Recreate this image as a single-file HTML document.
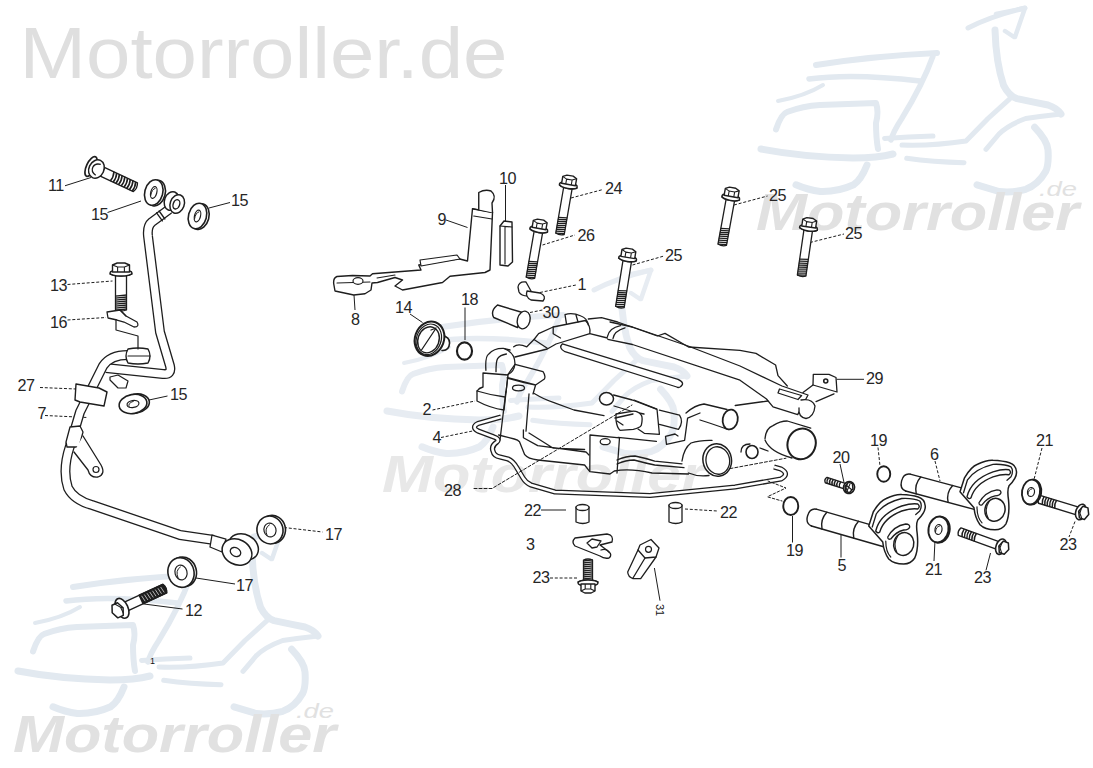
<!DOCTYPE html>
<html><head><meta charset="utf-8"><style>
html,body{margin:0;padding:0;background:#fff;overflow:hidden}
svg{display:block}
text{font-family:"Liberation Sans",sans-serif;fill:#161616}
.lb{fill:#262626}
</style></head><body>
<svg width="1093" height="768" viewBox="0 0 1093 768">
<rect width="1093" height="768" fill="#fff"/>
<text x="19.5" y="77.5" font-size="73" textLength="488" lengthAdjust="spacingAndGlyphs" style="fill:#dfdfdf">Motorroller.de</text><g transform="translate(743 0) scale(1.0)" fill="none" stroke="#e2e9f0" stroke-linecap="round" stroke-linejoin="round"><path d="M225 28 Q248 16 282 8" stroke-width="5"/><path d="M253 14 L282 8 L272 37 M262 31 L271 37" stroke-width="4.5"/><path d="M252 30 Q253 63 260.6 85.3 Q266 96 274 98.6 Q290 102 305 105 Q314 108 318 114" stroke-width="7"/><path d="M318 114 Q300 116 282.7 118.5 Q265 125 256 134 L243 149.4" stroke-width="5"/><path d="M291.6 127.3 Q304 140 305 150 Q306 165 302.6 171.6 Q295 185 282.7 189.3 Q270 193 256 191.5 L234 184.8" stroke-width="7"/><path d="M73 65 Q130 56 194 53" stroke-width="6"/><path d="M66 79 Q110 73 177 81" stroke-width="5.5"/><path d="M190 56 Q180 84 158.8 118.5 Q150 132 148 140" stroke-width="5.5"/><path d="M35 101 Q62 96 80 85" stroke-width="4"/><path d="M33 129.5 Q38 114 44 112 Q60 106 77 105 L133 103 Q136 112 133 123 Q133 138 135 149" stroke-width="6"/><path d="M18 149 Q60 157 110 158 Q135 158 150 154" stroke-width="7"/><path d="M141.6 138.4 Q165 137 190 136" stroke-width="5"/><path d="M159 145 Q190 146 223 141 L245 118.5 L267 98.6" stroke-width="5"/><path d="M163.7 158.3 Q190 162 221 162.7" stroke-width="5"/><path d="M124 165 Q118 180 110.6 184.8 Q95 192 77.4 191.5 Q65 190 53 184.8" stroke-width="7"/></g><text x="756" y="230" font-size="52" font-weight="bold" font-style="italic" textLength="323" lengthAdjust="spacingAndGlyphs" style="fill:#e1e1e1">Motorroller</text><text x="1039" y="196" font-size="20" font-style="italic" textLength="38" lengthAdjust="spacingAndGlyphs" style="fill:#e1e1e1">.de</text><g transform="translate(0 522) scale(1.0)" fill="none" stroke="#e2e9f0" stroke-linecap="round" stroke-linejoin="round"><path d="M225 28 Q248 16 282 8" stroke-width="5"/><path d="M253 14 L282 8 L272 37 M262 31 L271 37" stroke-width="4.5"/><path d="M252 30 Q253 63 260.6 85.3 Q266 96 274 98.6 Q290 102 305 105 Q314 108 318 114" stroke-width="7"/><path d="M318 114 Q300 116 282.7 118.5 Q265 125 256 134 L243 149.4" stroke-width="5"/><path d="M291.6 127.3 Q304 140 305 150 Q306 165 302.6 171.6 Q295 185 282.7 189.3 Q270 193 256 191.5 L234 184.8" stroke-width="7"/><path d="M73 65 Q130 56 194 53" stroke-width="6"/><path d="M66 79 Q110 73 177 81" stroke-width="5.5"/><path d="M190 56 Q180 84 158.8 118.5 Q150 132 148 140" stroke-width="5.5"/><path d="M35 101 Q62 96 80 85" stroke-width="4"/><path d="M33 129.5 Q38 114 44 112 Q60 106 77 105 L133 103 Q136 112 133 123 Q133 138 135 149" stroke-width="6"/><path d="M18 149 Q60 157 110 158 Q135 158 150 154" stroke-width="7"/><path d="M141.6 138.4 Q165 137 190 136" stroke-width="5"/><path d="M159 145 Q190 146 223 141 L245 118.5 L267 98.6" stroke-width="5"/><path d="M163.7 158.3 Q190 162 221 162.7" stroke-width="5"/><path d="M124 165 Q118 180 110.6 184.8 Q95 192 77.4 191.5 Q65 190 53 184.8" stroke-width="7"/></g><text x="13" y="752" font-size="52" font-weight="bold" font-style="italic" textLength="323" lengthAdjust="spacingAndGlyphs" style="fill:#e1e1e1">Motorroller</text><text x="296" y="718" font-size="20" font-style="italic" textLength="38" lengthAdjust="spacingAndGlyphs" style="fill:#e1e1e1">.de</text><g transform="translate(369 262) scale(1.0)" fill="none" stroke="#e7ecf2" stroke-linecap="round" stroke-linejoin="round"><path d="M225 28 Q248 16 282 8" stroke-width="5"/><path d="M253 14 L282 8 L272 37 M262 31 L271 37" stroke-width="4.5"/><path d="M252 30 Q253 63 260.6 85.3 Q266 96 274 98.6 Q290 102 305 105 Q314 108 318 114" stroke-width="7"/><path d="M318 114 Q300 116 282.7 118.5 Q265 125 256 134 L243 149.4" stroke-width="5"/><path d="M291.6 127.3 Q304 140 305 150 Q306 165 302.6 171.6 Q295 185 282.7 189.3 Q270 193 256 191.5 L234 184.8" stroke-width="7"/><path d="M73 65 Q130 56 194 53" stroke-width="6"/><path d="M66 79 Q110 73 177 81" stroke-width="5.5"/><path d="M190 56 Q180 84 158.8 118.5 Q150 132 148 140" stroke-width="5.5"/><path d="M35 101 Q62 96 80 85" stroke-width="4"/><path d="M33 129.5 Q38 114 44 112 Q60 106 77 105 L133 103 Q136 112 133 123 Q133 138 135 149" stroke-width="6"/><path d="M18 149 Q60 157 110 158 Q135 158 150 154" stroke-width="7"/><path d="M141.6 138.4 Q165 137 190 136" stroke-width="5"/><path d="M159 145 Q190 146 223 141 L245 118.5 L267 98.6" stroke-width="5"/><path d="M163.7 158.3 Q190 162 221 162.7" stroke-width="5"/><path d="M124 165 Q118 180 110.6 184.8 Q95 192 77.4 191.5 Q65 190 53 184.8" stroke-width="7"/></g><text x="382" y="492" font-size="52" font-weight="bold" font-style="italic" textLength="323" lengthAdjust="spacingAndGlyphs" style="fill:#e8e8e8">Motorroller</text>
<text x="48" y="191" font-size="16.2" letter-spacing="-0.6" class="lb">11</text><text x="91" y="220" font-size="16.2" letter-spacing="-0.6" class="lb">15</text><text x="231" y="206" font-size="16.2" letter-spacing="-0.6" class="lb">15</text><text x="50" y="291" font-size="16.2" letter-spacing="-0.6" class="lb">13</text><text x="50" y="327.5" font-size="16.2" letter-spacing="-0.6" class="lb">16</text><text x="17.5" y="391" font-size="16.2" letter-spacing="-0.6" class="lb">27</text><text x="37.5" y="419" font-size="16.2" letter-spacing="-0.6" class="lb">7</text><text x="170" y="400" font-size="16.2" letter-spacing="-0.6" class="lb">15</text><text x="325" y="540" font-size="16.2" letter-spacing="-0.6" class="lb">17</text><text x="236" y="591" font-size="16.2" letter-spacing="-0.6" class="lb">17</text><text x="185" y="616" font-size="16.2" letter-spacing="-0.6" class="lb">12</text><text x="499" y="184" font-size="16.2" letter-spacing="-0.6" class="lb">10</text><text x="437.5" y="225" font-size="16.2" letter-spacing="-0.6" class="lb">9</text><text x="351" y="325" font-size="16.2" letter-spacing="-0.6" class="lb">8</text><text x="395" y="312.5" font-size="16.2" letter-spacing="-0.6" class="lb">14</text><text x="461" y="305" font-size="16.2" letter-spacing="-0.6" class="lb">18</text><text x="605" y="194" font-size="16.2" letter-spacing="-0.6" class="lb">24</text><text x="577.5" y="241" font-size="16.2" letter-spacing="-0.6" class="lb">26</text><text x="577.5" y="290" font-size="16.2" letter-spacing="-0.6" class="lb">1</text><text x="542.5" y="317.5" font-size="16.2" letter-spacing="-0.6" class="lb">30</text><text x="665" y="261" font-size="16.2" letter-spacing="-0.6" class="lb">25</text><text x="769" y="201" font-size="16.2" letter-spacing="-0.6" class="lb">25</text><text x="845" y="239" font-size="16.2" letter-spacing="-0.6" class="lb">25</text><text x="866" y="384" font-size="16.2" letter-spacing="-0.6" class="lb">29</text><text x="422.5" y="415" font-size="16.2" letter-spacing="-0.6" class="lb">2</text><text x="432.5" y="442.5" font-size="16.2" letter-spacing="-0.6" class="lb">4</text><text x="444" y="496" font-size="16.2" letter-spacing="-0.6" class="lb">28</text><text x="524" y="516" font-size="16.2" letter-spacing="-0.6" class="lb">22</text><text x="720" y="517.5" font-size="16.2" letter-spacing="-0.6" class="lb">22</text><text x="526" y="550" font-size="16.2" letter-spacing="-0.6" class="lb">3</text><text x="532.5" y="582.5" font-size="16.2" letter-spacing="-0.6" class="lb">23</text><text x="870" y="446" font-size="16.2" letter-spacing="-0.6" class="lb">19</text><text x="832.5" y="462.5" font-size="16.2" letter-spacing="-0.6" class="lb">20</text><text x="786" y="556" font-size="16.2" letter-spacing="-0.6" class="lb">19</text><text x="837.5" y="571" font-size="16.2" letter-spacing="-0.6" class="lb">5</text><text x="930" y="460" font-size="16.2" letter-spacing="-0.6" class="lb">6</text><text x="1036" y="446" font-size="16.2" letter-spacing="-0.6" class="lb">21</text><text x="925" y="575" font-size="16.2" letter-spacing="-0.6" class="lb">21</text><text x="974" y="582.5" font-size="16.2" letter-spacing="-0.6" class="lb">23</text><text x="1059.6" y="550" font-size="16.2" letter-spacing="-0.6" class="lb">23</text><text x="0" y="0" font-size="11" transform="translate(656 604) rotate(90)">31</text><text x="150" y="664" font-size="9">1</text><line x1="65" y1="185.75" x2="91" y2="177.5" stroke="#1e1e1e" stroke-width="1.0" /><line x1="107.5" y1="212.5" x2="141" y2="201" stroke="#1e1e1e" stroke-width="1.0" /><line x1="209" y1="208" x2="230" y2="202.5" stroke="#1e1e1e" stroke-width="1.0" /><line x1="67.5" y1="284.5" x2="112.5" y2="281" stroke="#1e1e1e" stroke-width="1.0" stroke-dasharray="3 1.8"/><line x1="67.5" y1="320" x2="106" y2="317.5" stroke="#1e1e1e" stroke-width="1.0" stroke-dasharray="3 1.8"/><line x1="40" y1="387.5" x2="76" y2="389" stroke="#1e1e1e" stroke-width="1.0" stroke-dasharray="3 1.8"/><line x1="45" y1="415.5" x2="87.5" y2="417.5" stroke="#1e1e1e" stroke-width="1.0" stroke-dasharray="3 1.8"/><line x1="149" y1="400" x2="167.5" y2="396" stroke="#1e1e1e" stroke-width="1.0" /><line x1="196" y1="578" x2="235" y2="584" stroke="#1e1e1e" stroke-width="1.0" /><line x1="144" y1="604" x2="182.5" y2="609" stroke="#1e1e1e" stroke-width="1.0" /><line x1="284" y1="527.5" x2="322.5" y2="532" stroke="#1e1e1e" stroke-width="1.0" stroke-dasharray="3 1.8"/><line x1="505.5" y1="185" x2="505.5" y2="225" stroke="#1e1e1e" stroke-width="1.0" /><line x1="446" y1="220" x2="467.5" y2="227.5" stroke="#1e1e1e" stroke-width="1.0" /><line x1="354" y1="295" x2="355" y2="310" stroke="#1e1e1e" stroke-width="1.0" /><line x1="410" y1="314" x2="422.5" y2="322.5" stroke="#1e1e1e" stroke-width="1.0" /><line x1="465" y1="307.5" x2="465" y2="340" stroke="#1e1e1e" stroke-width="1.0" /><line x1="571" y1="198" x2="603" y2="189.5" stroke="#1e1e1e" stroke-width="1.0" stroke-dasharray="3 1.8"/><line x1="542.5" y1="245" x2="575" y2="235" stroke="#1e1e1e" stroke-width="1.0" stroke-dasharray="3 1.8"/><line x1="540" y1="292.5" x2="576" y2="285" stroke="#1e1e1e" stroke-width="1.0" stroke-dasharray="3 1.8"/><line x1="530" y1="312.5" x2="542.5" y2="310" stroke="#1e1e1e" stroke-width="1.0" stroke-dasharray="3 1.8"/><line x1="632.5" y1="265" x2="664" y2="256" stroke="#1e1e1e" stroke-width="1.0" stroke-dasharray="3 1.8"/><line x1="734" y1="205" x2="767.5" y2="196" stroke="#1e1e1e" stroke-width="1.0" stroke-dasharray="3 1.8"/><line x1="810" y1="242.5" x2="844" y2="234" stroke="#1e1e1e" stroke-width="1.0" stroke-dasharray="3 1.8"/><line x1="836.8" y1="379.3" x2="864" y2="379.3" stroke="#1e1e1e" stroke-width="1.0" /><line x1="432.5" y1="410" x2="475" y2="401" stroke="#1e1e1e" stroke-width="1.0" stroke-dasharray="3 1.8"/><line x1="441" y1="437.5" x2="472.5" y2="431" stroke="#1e1e1e" stroke-width="1.0" stroke-dasharray="3 1.8"/><line x1="541" y1="510" x2="566" y2="510" stroke="#1e1e1e" stroke-width="1.0" /><line x1="685" y1="509" x2="717.5" y2="511" stroke="#1e1e1e" stroke-width="1.0" stroke-dasharray="3 1.8"/><line x1="550" y1="578" x2="577.5" y2="578" stroke="#1e1e1e" stroke-width="1.0" stroke-dasharray="3 1.8"/><line x1="654.4" y1="568" x2="660" y2="600.7" stroke="#1e1e1e" stroke-width="1.0" /><line x1="878" y1="447.5" x2="880" y2="466" stroke="#1e1e1e" stroke-width="1.0" stroke-dasharray="3 1.8"/><line x1="840" y1="464" x2="844" y2="482.5" stroke="#1e1e1e" stroke-width="1.0" /><line x1="792.5" y1="516" x2="792.5" y2="542.5" stroke="#1e1e1e" stroke-width="1.0" /><line x1="841" y1="535" x2="841" y2="557.5" stroke="#1e1e1e" stroke-width="1.0" /><line x1="935" y1="461" x2="940" y2="481" stroke="#1e1e1e" stroke-width="1.0" stroke-dasharray="3 1.8"/><line x1="986" y1="570.3" x2="990.5" y2="553" stroke="#1e1e1e" stroke-width="1.0" /><line x1="935" y1="540" x2="934" y2="561" stroke="#1e1e1e" stroke-width="1.0" /><line x1="1042" y1="448" x2="1034" y2="479.5" stroke="#1e1e1e" stroke-width="1.0" stroke-dasharray="3 1.8"/><line x1="1075" y1="521.5" x2="1069" y2="537" stroke="#1e1e1e" stroke-width="1.0" stroke-dasharray="3 1.8"/><g transform="translate(91 166.5) rotate(25)" fill="#fff" stroke="#1e1e1e" stroke-linejoin="round"><path d="M6 -4.8 L49 -4.8 Q51.5 0 49 4.8 L6 4.8 Z" stroke-width="1.4"/><path d="M23 -5 Q25 0 23.6 5" fill="none" stroke-width="1.6"/><path d="M26 -5 Q28 0 26.6 5" fill="none" stroke-width="1.6"/><path d="M29 -5 Q31 0 29.6 5" fill="none" stroke-width="1.6"/><path d="M32 -5 Q34 0 32.6 5" fill="none" stroke-width="1.6"/><path d="M35 -5 Q37 0 35.6 5" fill="none" stroke-width="1.6"/><path d="M38 -5 Q40 0 38.6 5" fill="none" stroke-width="1.6"/><path d="M41 -5 Q43 0 41.6 5" fill="none" stroke-width="1.6"/><path d="M44 -5 Q46 0 44.6 5" fill="none" stroke-width="1.6"/><path d="M47 -5 Q49 0 47.6 5" fill="none" stroke-width="1.6"/><ellipse cx="0" cy="0" rx="4.5" ry="10.7" stroke-width="1.7"/><ellipse cx="6" cy="0" rx="7.5" ry="9.5" stroke-width="1.5"/><path d="M8 -6 Q2 -5 2 0 Q2 5 8 6" fill="none" stroke-width="1.3"/></g><g transform="translate(568.5 184.5) rotate(99.8)" fill="#fff" stroke="#1e1e1e" stroke-width="1.3" stroke-linejoin="round"><path d="M2 -4.3 L50 -4.3 Q52 0 50 4.3 L2 4.3 Z"/><path d="M33.0 -4.6 L34.2 4.6" stroke-width="1.3"/><path d="M35.0 -4.6 L36.2 4.6" stroke-width="1.3"/><path d="M37.0 -4.6 L38.2 4.6" stroke-width="1.3"/><path d="M39.0 -4.6 L40.2 4.6" stroke-width="1.3"/><path d="M41.0 -4.6 L42.2 4.6" stroke-width="1.3"/><path d="M43.0 -4.6 L44.2 4.6" stroke-width="1.3"/><path d="M45.0 -4.6 L46.2 4.6" stroke-width="1.3"/><path d="M47.0 -4.6 L48.2 4.6" stroke-width="1.3"/><path d="M49.0 -4.6 L50.2 4.6" stroke-width="1.3"/><path d="M2 -9 Q6 0 2 9 Q-2 0 2 -9 Z" stroke-width="1.4"/><ellipse cx="1" cy="0" rx="3" ry="9" stroke-width="1.4"/><path d="M0 -7 L-7 -7 L-9 -3.15 L-9 3.15 L-7 7 L0 7 Z" stroke-width="1.4"/><path d="M-7 -7 L-5 -2.8000000000000003 L-5 2.8000000000000003 L-7 7 M-5 -2.8000000000000003 L0 -2.8000000000000003 M-5 2.8000000000000003 L0 2.8000000000000003" fill="none" stroke-width="1.1"/></g><g transform="translate(539 228.5) rotate(99.9)" fill="#fff" stroke="#1e1e1e" stroke-width="1.3" stroke-linejoin="round"><path d="M2 -4.3 L50 -4.3 Q52 0 50 4.3 L2 4.3 Z"/><path d="M33.0 -4.6 L34.2 4.6" stroke-width="1.3"/><path d="M35.0 -4.6 L36.2 4.6" stroke-width="1.3"/><path d="M37.0 -4.6 L38.2 4.6" stroke-width="1.3"/><path d="M39.0 -4.6 L40.2 4.6" stroke-width="1.3"/><path d="M41.0 -4.6 L42.2 4.6" stroke-width="1.3"/><path d="M43.0 -4.6 L44.2 4.6" stroke-width="1.3"/><path d="M45.0 -4.6 L46.2 4.6" stroke-width="1.3"/><path d="M47.0 -4.6 L48.2 4.6" stroke-width="1.3"/><path d="M49.0 -4.6 L50.2 4.6" stroke-width="1.3"/><path d="M2 -9 Q6 0 2 9 Q-2 0 2 -9 Z" stroke-width="1.4"/><ellipse cx="1" cy="0" rx="3" ry="9" stroke-width="1.4"/><path d="M0 -7 L-7 -7 L-9 -3.15 L-9 3.15 L-7 7 L0 7 Z" stroke-width="1.4"/><path d="M-7 -7 L-5 -2.8000000000000003 L-5 2.8000000000000003 L-7 7 M-5 -2.8000000000000003 L0 -2.8000000000000003 M-5 2.8000000000000003 L0 2.8000000000000003" fill="none" stroke-width="1.1"/></g><g transform="translate(627.8 257.5) rotate(99.1)" fill="#fff" stroke="#1e1e1e" stroke-width="1.3" stroke-linejoin="round"><path d="M2 -4.3 L50 -4.3 Q52 0 50 4.3 L2 4.3 Z"/><path d="M33.0 -4.6 L34.2 4.6" stroke-width="1.3"/><path d="M35.0 -4.6 L36.2 4.6" stroke-width="1.3"/><path d="M37.0 -4.6 L38.2 4.6" stroke-width="1.3"/><path d="M39.0 -4.6 L40.2 4.6" stroke-width="1.3"/><path d="M41.0 -4.6 L42.2 4.6" stroke-width="1.3"/><path d="M43.0 -4.6 L44.2 4.6" stroke-width="1.3"/><path d="M45.0 -4.6 L46.2 4.6" stroke-width="1.3"/><path d="M47.0 -4.6 L48.2 4.6" stroke-width="1.3"/><path d="M49.0 -4.6 L50.2 4.6" stroke-width="1.3"/><path d="M2 -9 Q6 0 2 9 Q-2 0 2 -9 Z" stroke-width="1.4"/><ellipse cx="1" cy="0" rx="3" ry="9" stroke-width="1.4"/><path d="M0 -7 L-7 -7 L-9 -3.15 L-9 3.15 L-7 7 L0 7 Z" stroke-width="1.4"/><path d="M-7 -7 L-5 -2.8000000000000003 L-5 2.8000000000000003 L-7 7 M-5 -2.8000000000000003 L0 -2.8000000000000003 M-5 2.8000000000000003 L0 2.8000000000000003" fill="none" stroke-width="1.1"/></g><g transform="translate(731 196.5) rotate(100.3)" fill="#fff" stroke="#1e1e1e" stroke-width="1.3" stroke-linejoin="round"><path d="M2 -4.3 L49 -4.3 Q51 0 49 4.3 L2 4.3 Z"/><path d="M32.0 -4.6 L33.2 4.6" stroke-width="1.3"/><path d="M34.0 -4.6 L35.2 4.6" stroke-width="1.3"/><path d="M36.0 -4.6 L37.2 4.6" stroke-width="1.3"/><path d="M38.0 -4.6 L39.2 4.6" stroke-width="1.3"/><path d="M40.0 -4.6 L41.2 4.6" stroke-width="1.3"/><path d="M42.0 -4.6 L43.2 4.6" stroke-width="1.3"/><path d="M44.0 -4.6 L45.2 4.6" stroke-width="1.3"/><path d="M46.0 -4.6 L47.2 4.6" stroke-width="1.3"/><path d="M48.0 -4.6 L49.2 4.6" stroke-width="1.3"/><path d="M2 -9 Q6 0 2 9 Q-2 0 2 -9 Z" stroke-width="1.4"/><ellipse cx="1" cy="0" rx="3" ry="9" stroke-width="1.4"/><path d="M0 -7 L-7 -7 L-9 -3.15 L-9 3.15 L-7 7 L0 7 Z" stroke-width="1.4"/><path d="M-7 -7 L-5 -2.8000000000000003 L-5 2.8000000000000003 L-7 7 M-5 -2.8000000000000003 L0 -2.8000000000000003 M-5 2.8000000000000003 L0 2.8000000000000003" fill="none" stroke-width="1.1"/></g><g transform="translate(808.7 227) rotate(98.3)" fill="#fff" stroke="#1e1e1e" stroke-width="1.3" stroke-linejoin="round"><path d="M2 -4.3 L49 -4.3 Q51 0 49 4.3 L2 4.3 Z"/><path d="M32.0 -4.6 L33.2 4.6" stroke-width="1.3"/><path d="M34.0 -4.6 L35.2 4.6" stroke-width="1.3"/><path d="M36.0 -4.6 L37.2 4.6" stroke-width="1.3"/><path d="M38.0 -4.6 L39.2 4.6" stroke-width="1.3"/><path d="M40.0 -4.6 L41.2 4.6" stroke-width="1.3"/><path d="M42.0 -4.6 L43.2 4.6" stroke-width="1.3"/><path d="M44.0 -4.6 L45.2 4.6" stroke-width="1.3"/><path d="M46.0 -4.6 L47.2 4.6" stroke-width="1.3"/><path d="M48.0 -4.6 L49.2 4.6" stroke-width="1.3"/><path d="M2 -9 Q6 0 2 9 Q-2 0 2 -9 Z" stroke-width="1.4"/><ellipse cx="1" cy="0" rx="3" ry="9" stroke-width="1.4"/><path d="M0 -7 L-7 -7 L-9 -3.15 L-9 3.15 L-7 7 L0 7 Z" stroke-width="1.4"/><path d="M-7 -7 L-5 -2.8000000000000003 L-5 2.8000000000000003 L-7 7 M-5 -2.8000000000000003 L0 -2.8000000000000003 M-5 2.8000000000000003 L0 2.8000000000000003" fill="none" stroke-width="1.1"/></g><g transform="translate(121 272) rotate(90)" fill="#fff" stroke="#1e1e1e" stroke-width="1.3" stroke-linejoin="round"><path d="M2 -5.5 L38 -5.5 Q40 0 38 5.5 L2 5.5 Z"/><path d="M23.0 -5.8 L24.2 5.8" stroke-width="1.3"/><path d="M25.0 -5.8 L26.2 5.8" stroke-width="1.3"/><path d="M27.0 -5.8 L28.2 5.8" stroke-width="1.3"/><path d="M29.0 -5.8 L30.2 5.8" stroke-width="1.3"/><path d="M31.0 -5.8 L32.2 5.8" stroke-width="1.3"/><path d="M33.0 -5.8 L34.2 5.8" stroke-width="1.3"/><path d="M35.0 -5.8 L36.2 5.8" stroke-width="1.3"/><path d="M37.0 -5.8 L38.2 5.8" stroke-width="1.3"/><path d="M2 -11 Q6 0 2 11 Q-2 0 2 -11 Z" stroke-width="1.4"/><ellipse cx="1" cy="0" rx="3" ry="11" stroke-width="1.4"/><path d="M0 -8.5 L-7 -8.5 L-9 -3.825 L-9 3.825 L-7 8.5 L0 8.5 Z" stroke-width="1.4"/><path d="M-7 -8.5 L-5 -3.4000000000000004 L-5 3.4000000000000004 L-7 8.5 M-5 -3.4000000000000004 L0 -3.4000000000000004 M-5 3.4000000000000004 L0 3.4000000000000004" fill="none" stroke-width="1.1"/></g><g transform="translate(122 608.3) rotate(-24.7)" fill="#fff" stroke="#1e1e1e" stroke-width="1.4" stroke-linejoin="round"><path d="M0 -4.7 L47 -4.7 Q49.5 0 47 4.7 L0 4.7 Z"/><path d="M21 -4.7 L47 -4.7 Q49.5 0 47 4.7 L21 4.7 Z" fill="#1e1e1e"/><path d="M23 -3.2 L24 3.2" stroke="#fff" stroke-width="0.6"/><path d="M26 -3.2 L27 3.2" stroke="#fff" stroke-width="0.6"/><path d="M29 -3.2 L30 3.2" stroke="#fff" stroke-width="0.6"/><path d="M32 -3.2 L33 3.2" stroke="#fff" stroke-width="0.6"/><path d="M35 -3.2 L36 3.2" stroke="#fff" stroke-width="0.6"/><path d="M38 -3.2 L39 3.2" stroke="#fff" stroke-width="0.6"/><path d="M41 -3.2 L42 3.2" stroke="#fff" stroke-width="0.6"/><path d="M44 -3.2 L45 3.2" stroke="#fff" stroke-width="0.6"/><ellipse cx="0" cy="0" rx="6" ry="10.5" stroke-width="1.6"/><polygon points="1.20,0.00 -1.80,6.93 -7.80,6.93 -10.80,0.00 -7.80,-6.93 -1.80,-6.93" stroke-width="1.5"/><path d="M-4.8 -6.96 L-0.7999999999999998 -1.6 L-0.7999999999999998 4.8 M-0.7999999999999998 -1.6 L1.2000000000000002 0" fill="none" stroke-width="1.1"/></g><g transform="translate(1080.8 512) rotate(197)" fill="#fff" stroke="#1e1e1e" stroke-width="1.4" stroke-linejoin="round"><path d="M0 -4 L43 -4 Q45.5 0 43 4 L0 4 Z"/><path d="M26.0 -4.2 Q27.8 0 26.6 4.2" fill="none" stroke-width="1.5"/><path d="M28.6 -4.2 Q30.400000000000002 0 29.200000000000003 4.2" fill="none" stroke-width="1.5"/><path d="M31.2 -4.2 Q33.0 0 31.8 4.2" fill="none" stroke-width="1.5"/><path d="M33.8 -4.2 Q35.599999999999994 0 34.4 4.2" fill="none" stroke-width="1.5"/><path d="M36.4 -4.2 Q38.199999999999996 0 37.0 4.2" fill="none" stroke-width="1.5"/><path d="M39.0 -4.2 Q40.8 0 39.6 4.2" fill="none" stroke-width="1.5"/><ellipse cx="0" cy="0" rx="5" ry="8" stroke-width="1.6"/><polygon points="2.25,0.00 -0.37,6.06 -5.62,6.06 -8.25,0.00 -5.63,-6.06 -0.37,-6.06" stroke-width="1.5"/><path d="M-3 -6.09 L0.5 -1.4000000000000001 L0.5 4.2 M0.5 -1.4000000000000001 L2.25 0" fill="none" stroke-width="1.1"/></g><g transform="translate(1001 546.7) rotate(200)" fill="#fff" stroke="#1e1e1e" stroke-width="1.4" stroke-linejoin="round"><path d="M0 -4 L44 -4 Q46.5 0 44 4 L0 4 Z"/><path d="M27.0 -4.2 Q28.8 0 27.6 4.2" fill="none" stroke-width="1.5"/><path d="M29.6 -4.2 Q31.400000000000002 0 30.200000000000003 4.2" fill="none" stroke-width="1.5"/><path d="M32.2 -4.2 Q34.0 0 32.800000000000004 4.2" fill="none" stroke-width="1.5"/><path d="M34.8 -4.2 Q36.599999999999994 0 35.4 4.2" fill="none" stroke-width="1.5"/><path d="M37.4 -4.2 Q39.199999999999996 0 38.0 4.2" fill="none" stroke-width="1.5"/><path d="M40.0 -4.2 Q41.8 0 40.6 4.2" fill="none" stroke-width="1.5"/><ellipse cx="0" cy="0" rx="5" ry="8" stroke-width="1.6"/><polygon points="2.25,0.00 -0.37,6.06 -5.62,6.06 -8.25,0.00 -5.63,-6.06 -0.37,-6.06" stroke-width="1.5"/><path d="M-3 -6.09 L0.5 -1.4000000000000001 L0.5 4.2 M0.5 -1.4000000000000001 L2.25 0" fill="none" stroke-width="1.1"/></g><g transform="translate(849 487.5) rotate(198)" fill="#fff" stroke="#1e1e1e" stroke-width="1.4" stroke-linejoin="round"><path d="M0 -2.8 L24 -2.8 Q26.5 0 24 2.8 L0 2.8 Z"/><path d="M9.0 -3.0 Q10.8 0 9.6 3.0" fill="none" stroke-width="1.5"/><path d="M11.6 -3.0 Q13.4 0 12.2 3.0" fill="none" stroke-width="1.5"/><path d="M14.2 -3.0 Q16.0 0 14.799999999999999 3.0" fill="none" stroke-width="1.5"/><path d="M16.8 -3.0 Q18.6 0 17.400000000000002 3.0" fill="none" stroke-width="1.5"/><path d="M19.4 -3.0 Q21.2 0 20.0 3.0" fill="none" stroke-width="1.5"/><path d="M22.0 -3.0 Q23.8 0 22.6 3.0" fill="none" stroke-width="1.5"/><ellipse cx="0" cy="0" rx="5.5" ry="6" stroke-width="1.6"/><polygon points="4.12,0.00 2.06,4.76 -2.06,4.76 -4.12,0.00 -2.06,-4.76 2.06,-4.76" stroke-width="1.5"/><path d="M0 -4.785 L2.75 -1.1 L2.75 3.3 M2.75 -1.1 L4.125 0" fill="none" stroke-width="1.1"/></g><path d="M846 485 L852 490 M850 484 L847 491" stroke="#1e1e1e" stroke-width="1.1"/><g transform="translate(588 584) rotate(-90)" fill="#fff" stroke="#1e1e1e" stroke-width="1.3" stroke-linejoin="round"><path d="M2 -4.5 L24 -4.5 Q26 0 24 4.5 L2 4.5 Z"/><path d="M5.0 -4.8 L6.2 4.8" stroke-width="1.3"/><path d="M7.0 -4.8 L8.2 4.8" stroke-width="1.3"/><path d="M9.0 -4.8 L10.2 4.8" stroke-width="1.3"/><path d="M11.0 -4.8 L12.2 4.8" stroke-width="1.3"/><path d="M13.0 -4.8 L14.2 4.8" stroke-width="1.3"/><path d="M15.0 -4.8 L16.2 4.8" stroke-width="1.3"/><path d="M17.0 -4.8 L18.2 4.8" stroke-width="1.3"/><path d="M19.0 -4.8 L20.2 4.8" stroke-width="1.3"/><path d="M21.0 -4.8 L22.2 4.8" stroke-width="1.3"/><path d="M23.0 -4.8 L24.2 4.8" stroke-width="1.3"/><path d="M2 -10 Q6 0 2 10 Q-2 0 2 -10 Z" stroke-width="1.4"/><ellipse cx="1" cy="0" rx="3" ry="10" stroke-width="1.4"/><path d="M0 -7 L-7 -7 L-9 -3.15 L-9 3.15 L-7 7 L0 7 Z" stroke-width="1.4"/><path d="M-7 -7 L-5 -2.8000000000000003 L-5 2.8000000000000003 L-7 7 M-5 -2.8000000000000003 L0 -2.8000000000000003 M-5 2.8000000000000003 L0 2.8000000000000003" fill="none" stroke-width="1.1"/></g><g transform="translate(153.75 192.5) rotate(15)"><ellipse cx="2.5" cy="0" rx="9" ry="13" fill="#fff" stroke="#1e1e1e" stroke-width="1.6"/><ellipse cx="0" cy="0" rx="9" ry="13" fill="#fff" stroke="#1e1e1e" stroke-width="1.6"/><ellipse cx="0" cy="0" rx="3" ry="6" fill="#fff" stroke="#1e1e1e" stroke-width="1.2"/><path d="M-2.0999999999999996 4.199999999999999 Q-2.7 -3.0 0.6000000000000001 -4.5" fill="none" stroke="#1e1e1e" stroke-width="0.9"/></g><g transform="translate(197.5 216) rotate(15)"><ellipse cx="2.5" cy="0" rx="9" ry="13" fill="#fff" stroke="#1e1e1e" stroke-width="1.6"/><ellipse cx="0" cy="0" rx="9" ry="13" fill="#fff" stroke="#1e1e1e" stroke-width="1.6"/><ellipse cx="0" cy="0" rx="3" ry="6" fill="#fff" stroke="#1e1e1e" stroke-width="1.2"/><path d="M-2.0999999999999996 4.199999999999999 Q-2.7 -3.0 0.6000000000000001 -4.5" fill="none" stroke="#1e1e1e" stroke-width="0.9"/></g><g transform="translate(133 404) rotate(-10)"><ellipse cx="2.5" cy="0" rx="14" ry="9.5" fill="#fff" stroke="#1e1e1e" stroke-width="1.6"/><ellipse cx="0" cy="0" rx="14" ry="9.5" fill="#fff" stroke="#1e1e1e" stroke-width="1.6"/><ellipse cx="0" cy="0" rx="6" ry="3.5" fill="#fff" stroke="#1e1e1e" stroke-width="1.2"/><path d="M-4.199999999999999 2.4499999999999997 Q-5.4 -1.75 1.2000000000000002 -2.625" fill="none" stroke="#1e1e1e" stroke-width="0.9"/></g><g transform="translate(270 530) rotate(-15)"><ellipse cx="2.5" cy="0" rx="13" ry="14" fill="#fff" stroke="#1e1e1e" stroke-width="1.6"/><ellipse cx="0" cy="0" rx="13" ry="14" fill="#fff" stroke="#1e1e1e" stroke-width="1.6"/><ellipse cx="0" cy="0" rx="6" ry="7" fill="#fff" stroke="#1e1e1e" stroke-width="1.2"/><path d="M-4.199999999999999 4.8999999999999995 Q-5.4 -3.5 1.2000000000000002 -5.25" fill="none" stroke="#1e1e1e" stroke-width="0.9"/></g><g transform="translate(181 572.5) rotate(-15)"><ellipse cx="2.5" cy="0" rx="13" ry="15" fill="#fff" stroke="#1e1e1e" stroke-width="1.6"/><ellipse cx="0" cy="0" rx="13" ry="15" fill="#fff" stroke="#1e1e1e" stroke-width="1.6"/><ellipse cx="0" cy="0" rx="6" ry="7.5" fill="#fff" stroke="#1e1e1e" stroke-width="1.2"/><path d="M-4.199999999999999 5.25 Q-5.4 -3.75 1.2000000000000002 -5.625" fill="none" stroke="#1e1e1e" stroke-width="0.9"/></g><g transform="translate(1031 492) rotate(10)"><ellipse cx="1.2" cy="0" rx="9" ry="12.5" fill="#fff" stroke="#1e1e1e" stroke-width="1.9"/><ellipse cx="0" cy="0" rx="9" ry="12.5" fill="#fff" stroke="#1e1e1e" stroke-width="1.9"/><ellipse cx="0" cy="0" rx="3.5" ry="4.5" fill="#fff" stroke="#1e1e1e" stroke-width="1.2"/><path d="M-2.4499999999999997 3.15 Q-3.15 -2.25 0.7000000000000001 -3.375" fill="none" stroke="#1e1e1e" stroke-width="0.9"/></g><g transform="translate(938.5 529.5) rotate(10)"><ellipse cx="1.2" cy="0" rx="10" ry="13" fill="#fff" stroke="#1e1e1e" stroke-width="1.9"/><ellipse cx="0" cy="0" rx="10" ry="13" fill="#fff" stroke="#1e1e1e" stroke-width="1.9"/><ellipse cx="0" cy="0" rx="3.5" ry="5" fill="#fff" stroke="#1e1e1e" stroke-width="1.2"/><path d="M-2.4499999999999997 3.5 Q-3.15 -2.5 0.7000000000000001 -3.75" fill="none" stroke="#1e1e1e" stroke-width="0.9"/></g><path d="M171 208 L152 222 Q147 226 148 236 L160 332 L170 366 Q172 375 163 374 L106 368" fill="none" stroke="#1e1e1e" stroke-width="10" stroke-linecap="butt" stroke-linejoin="round"/><path d="M171 208 L152 222 Q147 226 148 236 L160 332 L170 366 Q172 375 163 374 L106 368" fill="none" stroke="#fff" stroke-width="7.4" stroke-linecap="butt" stroke-linejoin="round"/><path d="M128 355 Q110 355 103 366 L80 412 L70 446 Q62 470 68 488 Q74 500 92 505 L180 535 L214 540" fill="none" stroke="#1e1e1e" stroke-width="10" stroke-linecap="butt" stroke-linejoin="round"/><path d="M128 355 Q110 355 103 366 L80 412 L70 446 Q62 470 68 488 Q74 500 92 505 L180 535 L214 540" fill="none" stroke="#fff" stroke-width="7.4" stroke-linecap="butt" stroke-linejoin="round"/><g stroke="#1e1e1e" fill="#fff"><ellipse cx="171.5" cy="201" rx="7" ry="9.5" transform="rotate(20 171.5 201)" stroke-width="1.5"/><path d="M167 196 L174 193 L180 212 L172 214 Z" stroke="none"/><ellipse cx="177.2" cy="204" rx="7" ry="9.5" transform="rotate(20 177.2 204)" stroke-width="1.5"/><ellipse cx="176.4" cy="204.3" rx="3.2" ry="4.8" transform="rotate(20 176.4 204.3)" stroke-width="1.4"/></g><path d="M159.1 211 L164.9 219 M156.6 212.8 L162.4 220.9" fill="none" stroke="#1e1e1e" stroke-width="1.3" stroke-linejoin="round" stroke-linecap="round" /><path d="M212 535 L226 539 L222 552 L210 547 Z" fill="#fff" stroke="#1e1e1e" stroke-width="1.3" stroke-linejoin="round" stroke-linecap="round" /><g stroke="#1e1e1e" stroke-width="1.5" fill="#fff"><ellipse cx="243.5" cy="547" rx="15.5" ry="12.5" transform="rotate(28 243.5 547)"/><path d="M230 541 L237 536 L250 558 L243 563 Z" stroke="none"/><ellipse cx="237" cy="552" rx="15.5" ry="12.5" transform="rotate(28 237 552)"/><ellipse cx="235.5" cy="552" rx="5.5" ry="4.3" transform="rotate(28 235.5 552)" stroke-width="1.3"/></g><path d="M76 384 L99 388 L107 392 L104 406 L80 402 L75 400 Z" fill="#fff" stroke="#1e1e1e" stroke-width="1.4" stroke-linejoin="round" stroke-linecap="round" /><path d="M70 427 L80 426 L83 432 L79 447 L67 447 L66 442 Z" fill="#fff" stroke="#1e1e1e" stroke-width="1.3" stroke-linejoin="round" stroke-linecap="round" /><path d="M83 436 L101 465 Q106 474 98 477 Q90 478 88 470 L74 452" fill="#fff" stroke="#1e1e1e" stroke-width="1.3" stroke-linejoin="round" stroke-linecap="round" /><circle cx="96" cy="469.5" r="3" fill="#fff" stroke="#1e1e1e" stroke-width="1.2"/><path d="M128 349 Q138 347 148 349 Q152 356 148 363 Q138 365 128 363 Q124 356 128 349 Z" fill="#fff" stroke="#1e1e1e" stroke-width="1.4" stroke-linejoin="round" stroke-linecap="round" /><path d="M128 356 L150 356" fill="none" stroke="#1e1e1e" stroke-width="1.1" stroke-linejoin="round" stroke-linecap="round" /><path d="M110 377 L118 375 L128 381 L126 388 L118 388 L110 380 Z" fill="#fff" stroke="#1e1e1e" stroke-width="1.2" stroke-linejoin="round" stroke-linecap="round" /><path d="M107 312 L120 310 L126 316 L137 322 Q140 327 134 327 L124 322 L117 320 L108 318 Z" fill="#fff" stroke="#1e1e1e" stroke-width="1.3" stroke-linejoin="round" stroke-linecap="round" /><path d="M116 320 L116 330 L138 336 L138 349" fill="none" stroke="#1e1e1e" stroke-width="1.2" stroke-linejoin="round" stroke-linecap="round" /><path d="M120 310 L126 316" fill="none" stroke="#1e1e1e" stroke-width="1.1" stroke-linejoin="round" stroke-linecap="round" /><path d="M472.5 208.75 L467.5 261 L458.75 258.75 L418.75 265 L421 270 L372.5 273.75 L370 276 L352.5 275.5 L337 276.5 Q333 278 333.75 284 L335 291 L353.75 295 L365 293.75 L371 290 L372 283 L377.5 282.5 L395 277.5 L402.5 280 L395 286 L402.5 290 L442.5 282.5 L450 276.25 L485 272.5 L490 270 L492.5 212.5 Z" fill="#fff" stroke="#1e1e1e" stroke-width="1.4" stroke-linejoin="round" stroke-linecap="round" /><path d="M472.5 208.75 L492.5 212.5 M473.75 216 L492 219" fill="none" stroke="#1e1e1e" stroke-width="1.2" stroke-linejoin="round" stroke-linecap="round" /><path d="M478.75 209.5 L478.75 192.5 Q485 189 491 191 Q497 196 492 203 L492.5 212.5" fill="#fff" stroke="#1e1e1e" stroke-width="1.4" stroke-linejoin="round" stroke-linecap="round" /><path d="M420 260 L457 255 L460 259 L421 266 Z" fill="#fff" stroke="#1e1e1e" stroke-width="1.2" stroke-linejoin="round" stroke-linecap="round" /><path d="M337 283 L370 282 M377 278 L395 275" fill="none" stroke="#1e1e1e" stroke-width="1.1" stroke-linejoin="round" stroke-linecap="round" /><ellipse cx="358" cy="281" rx="5" ry="3.3" fill="#fff" stroke="#1e1e1e" stroke-width="1.2"/><path d="M500 226 L504 221 L512 222 L512.5 262 L508 266 L500 265 Z" fill="#fff" stroke="#1e1e1e" stroke-width="1.4" stroke-linejoin="round" stroke-linecap="round" /><path d="M500 226 L512 227 M505 227 L505 264" fill="none" stroke="#1e1e1e" stroke-width="1.1" stroke-linejoin="round" stroke-linecap="round" /><path d="M518 287 Q519 281 526 282 L531 291 L528 296 Q521 296 519 292 Z" fill="#fff" stroke="#1e1e1e" stroke-width="1.3" stroke-linejoin="round" stroke-linecap="round" /><path d="M527 291 L540 293 Q547 296 543 301 L531 300 Q525 297 527 291 Z" fill="#fff" stroke="#1e1e1e" stroke-width="1.3" stroke-linejoin="round" stroke-linecap="round" /><path d="M497.5 305 L522.5 312.5 L517.5 327.5 L493.75 317.5 Q490 311 497.5 305 Z" fill="#fff" stroke="#1e1e1e" stroke-width="1.4" stroke-linejoin="round" stroke-linecap="round" /><ellipse cx="523.7" cy="320" rx="6.3" ry="9" transform="rotate(15 523.7 320)" fill="#fff" stroke="#1e1e1e" stroke-width="1.4"/><path d="M441 335 Q450 337 449.6 343 Q449 351 442 350.5" fill="#fff" stroke="#1e1e1e" stroke-width="1.6" stroke-linejoin="round" stroke-linecap="round" /><ellipse cx="429.5" cy="338.7" rx="14.5" ry="17.5" transform="rotate(20 429.5 338.7)" fill="#fff" stroke="#1e1e1e" stroke-width="2"/><ellipse cx="428.8" cy="339.3" rx="12.3" ry="15.6" transform="rotate(20 428.8 339.3)" fill="none" stroke="#1e1e1e" stroke-width="1.2"/><ellipse cx="428.5" cy="339.8" rx="10.5" ry="13.3" transform="rotate(20 428.5 339.8)" fill="none" stroke="#1e1e1e" stroke-width="1.4"/><path d="M421.5 350 L435.5 329 M431 330 L436 328" fill="none" stroke="#1e1e1e" stroke-width="1.3" stroke-linejoin="round" stroke-linecap="round" /><ellipse cx="464.5" cy="351" rx="7.5" ry="8.7" fill="none" stroke="#1e1e1e" stroke-width="2.2"/><ellipse cx="464.5" cy="351" rx="5.5" ry="6.6" fill="none" stroke="#fff" stroke-width="1"/><path d="M513.7 346.8 Q518 343 526.8 346.8 L534 339.5 L538.6 333.7 L553.2 327 L585.4 320.5 Q591 326 589.8 333.7 L556 344 L547.3 349 L515 357" fill="none" stroke="#1e1e1e" stroke-width="1.3" stroke-linejoin="round" stroke-linecap="round" /><path d="M534 339.5 L547.3 348.3 M553.2 327 L553.2 333.7 L560.5 338" fill="none" stroke="#1e1e1e" stroke-width="1.3" stroke-linejoin="round" stroke-linecap="round" /><path d="M588.3 319 L601.5 317.6 L617.6 322 L657.3 336 L665 333.4 L688.5 347 L740 350.4 L756 353.4 L775.6 365 L778 375.6 L787.3 386" fill="none" stroke="#1e1e1e" stroke-width="1.3" stroke-linejoin="round" stroke-linecap="round" /><path d="M566.4 323.4 L565 314.6 Q572 312 581 316 Q587 318 588.3 324.9 M576 315 L578 322" fill="none" stroke="#1e1e1e" stroke-width="1.3" stroke-linejoin="round" stroke-linecap="round" /><path d="M589.8 333.7 L607.4 338" fill="none" stroke="#1e1e1e" stroke-width="1.3" stroke-linejoin="round" stroke-linecap="round" /><path d="M610 322 L632.5 327 L688 346 L740 366 L782 386 L808 395 L797.7 414.6 L773 406.8 L766.5 399 L740 380.2 L632.5 344.5 L607.8 339.3" fill="none" stroke="#1e1e1e" stroke-width="1.3" stroke-linejoin="round" stroke-linecap="round" /><path d="M607.4 336.6 Q609 328 620.5 325.6 M613 338.5 Q614 331 625 327.8" fill="none" stroke="#1e1e1e" stroke-width="1.3" stroke-linejoin="round" stroke-linecap="round" /><path d="M565 351.7 Q558 348 562.4 343.8 L678 379.3 Q686 383 680 387 Q678 388 676.8 387 Z" fill="#fff" stroke="#1e1e1e" stroke-width="1.3" stroke-linejoin="round" stroke-linecap="round" /><path d="M779.5 389 L801.6 395.5 L798 399.5 L778 393 Z" fill="none" stroke="#1e1e1e" stroke-width="1.3" stroke-linejoin="round" stroke-linecap="round" /><path d="M801 400 Q812 398 815 406 Q814 417 806 418.5 Q798 417 799 408" fill="#fff" stroke="#1e1e1e" stroke-width="1.3" stroke-linejoin="round" stroke-linecap="round" /><path d="M813.3 374.3 L829 374.3 L836 377.5 L837 392 L813 385 Z" fill="#fff" stroke="#1e1e1e" stroke-width="1.3" stroke-linejoin="round" stroke-linecap="round" /><circle cx="825.75" cy="381" r="2" fill="none" stroke="#1e1e1e" stroke-width="1.6"/><path d="M803 392.5 L813 385 M816 401.6 L834 393.8" fill="none" stroke="#1e1e1e" stroke-width="1.3" stroke-linejoin="round" stroke-linecap="round" /><path d="M735.2 405.5 L767.8 401" fill="none" stroke="#1e1e1e" stroke-width="1.3" stroke-linejoin="round" stroke-linecap="round" /><path d="M485.9 370.3 Q485 356 488.8 354 Q494 348 503.4 348.3 L510 350 M496 371.7 Q496 361 497.6 358.6 Q500 355 506.4 354" fill="none" stroke="#1e1e1e" stroke-width="1.3" stroke-linejoin="round" stroke-linecap="round" /><path d="M505 349 Q515 353 515 364 Q514 372 507.8 374.7" fill="none" stroke="#1e1e1e" stroke-width="1.3" stroke-linejoin="round" stroke-linecap="round" /><path d="M483 373 L508 375 L504 410 Q490 408 477 401 L477 391 Q479 388 483 387 Z" fill="none" stroke="#1e1e1e" stroke-width="1.3" stroke-linejoin="round" stroke-linecap="round" /><path d="M477 391 Q490 395 505 397" fill="none" stroke="#1e1e1e" stroke-width="1.3" stroke-linejoin="round" stroke-linecap="round" /><path d="M507.8 374.7 L515 364.4 L543 371.7 Q546 376 544.4 379 L535.6 385 L507.8 377.6 M507.8 377 L506 392 M535.6 385 L533 394 M507 378 Q520 382 535.6 385" fill="none" stroke="#1e1e1e" stroke-width="1.3" stroke-linejoin="round" stroke-linecap="round" /><ellipse cx="518.5" cy="388" rx="6" ry="2.8" fill="none" stroke="#1e1e1e" stroke-width="1.3"/><path d="M505.8 392 L500 440 M529 394 L526 431.2" fill="none" stroke="#1e1e1e" stroke-width="1.3" stroke-linejoin="round" stroke-linecap="round" /><path d="M533.8 393.3 Q545 400 553.3 402.4 L574 410 Q590 413 604 415.6" fill="none" stroke="#1e1e1e" stroke-width="1.3" stroke-linejoin="round" stroke-linecap="round" /><path d="M501 417 L478 423.5 Q471 427 478 431 L494 437 Q500 439 497 442 Q491 446 493 451 Q494 456 500 457 L508 459 Q513 461 517 468 L523 478 Q526 483 531 485 L555 492 L650 495.5 L735 487 L781 479 Q790 474 781 469 L774 467" fill="none" stroke="#1e1e1e" stroke-width="5.2" stroke-linejoin="round"/><path d="M501 417 L478 423.5 Q471 427 478 431 L494 437 Q500 439 497 442 Q491 446 493 451 Q494 456 500 457 L508 459 Q513 461 517 468 L523 478 Q526 483 531 485 L555 492 L650 495.5 L735 487 L781 479 Q790 474 781 469 L774 467" fill="none" stroke="#fff" stroke-width="2.6" stroke-linejoin="round"/><path d="M498.6 435 L514.3 439 Q518 440 519.5 441.7 L524.7 454.7 Q528 459 537.7 460 L584.6 465 L589.8 471.6 L610 474 L614.3 471 Q630 468 652 473 L688.5 474" fill="none" stroke="#1e1e1e" stroke-width="1.3" stroke-linejoin="round" stroke-linecap="round" /><path d="M523.4 430 L523.4 437.8 L537.7 445.6 L586 452 L589 455 M529 433 L553.3 448.2 L584.6 449.5" fill="none" stroke="#1e1e1e" stroke-width="1.3" stroke-linejoin="round" stroke-linecap="round" /><path d="M589.8 471 L590 435 L619.5 437.8 L617 473" fill="none" stroke="#1e1e1e" stroke-width="1.3" stroke-linejoin="round" stroke-linecap="round" /><ellipse cx="605.2" cy="441.7" rx="5" ry="3" fill="none" stroke="#1e1e1e" stroke-width="1.3"/><path d="M617 460 Q626 456 635 456 Q645 458 654.7 461.2 L682 463.8 M617 464 Q626 460 634 460 Q645 463 654.7 465 L684 467.7" fill="none" stroke="#1e1e1e" stroke-width="1.3" stroke-linejoin="round" stroke-linecap="round" /><path d="M682 461 Q684 448 691 443 Q700 440 712 440.4 M688.5 473 Q698 477 709 475.5" fill="none" stroke="#1e1e1e" stroke-width="1.3" stroke-linejoin="round" stroke-linecap="round" /><ellipse cx="717.2" cy="460" rx="14.3" ry="16.3" transform="rotate(-10 717.2 460)" fill="#fff" stroke="#1e1e1e" stroke-width="1.5"/><ellipse cx="717.8" cy="460.5" rx="11.8" ry="13.8" transform="rotate(-10 717.8 460.5)" fill="none" stroke="#1e1e1e" stroke-width="1.3"/><path d="M686 413 Q695 405 704 404 L727 409.5 M700 420 Q710 423 728 429.5" fill="none" stroke="#1e1e1e" stroke-width="1.3" stroke-linejoin="round" stroke-linecap="round" /><ellipse cx="730.2" cy="419.5" rx="7.5" ry="10" transform="rotate(10 730.2 419.5)" fill="#fff" stroke="#1e1e1e" stroke-width="1.8"/><path d="M613.6 395 L632.3 400 L656.4 409.2 M614 406 L634 412 L644 414" fill="none" stroke="#1e1e1e" stroke-width="1.3" stroke-linejoin="round" stroke-linecap="round" /><ellipse cx="606.5" cy="398.8" rx="7" ry="6.2" fill="#fff" stroke="#1e1e1e" stroke-width="1.5"/><path d="M616 420.2 Q617 428 620 430.3 L633.3 429.3 Q640 428 641.3 425.3 Q643 418 641.3 415.2 Q638 411 633.3 411.2 L616 414 Z" fill="#fff" stroke="#1e1e1e" stroke-width="1.3" stroke-linejoin="round" stroke-linecap="round" /><path d="M615 418 L633 414 M617 421 L623 425" fill="none" stroke="#1e1e1e" stroke-width="1.3" stroke-linejoin="round" stroke-linecap="round" /><path d="M634 400 L657 409.2 L659.4 434.3 L644.3 433.3 L638 429" fill="none" stroke="#1e1e1e" stroke-width="1.3" stroke-linejoin="round" stroke-linecap="round" /><path d="M659.4 410.2 L679.5 415.2 Q684 422 678.5 429.3 L659.4 424.3" fill="none" stroke="#1e1e1e" stroke-width="1.3" stroke-linejoin="round" stroke-linecap="round" /><path d="M665.5 436.3 L666.5 444.4 L684.6 440.4 L687.6 418.2 L700 413 M665.5 436.3 L675 434 L678 436" fill="none" stroke="#1e1e1e" stroke-width="1.3" stroke-linejoin="round" stroke-linecap="round" /><path d="M618 437.3 L656.4 441.4" fill="none" stroke="#1e1e1e" stroke-width="1.3" stroke-linejoin="round" stroke-linecap="round" /><path d="M765 438.6 Q766 428 773 425.6 Q780 421 787.3 421 L810.7 428.2 M765 440 Q770 452 792 458" fill="none" stroke="#1e1e1e" stroke-width="1.3" stroke-linejoin="round" stroke-linecap="round" /><ellipse cx="801.6" cy="443.9" rx="14" ry="15.5" transform="rotate(20 801.6 443.9)" fill="#fff" stroke="#1e1e1e" stroke-width="2"/><ellipse cx="752" cy="452" rx="6" ry="6.5" fill="none" stroke="#1e1e1e" stroke-width="1.6"/><path d="M741 452 Q741 444 750 444 M760 448 L768 451" fill="none" stroke="#1e1e1e" stroke-width="1.3" stroke-linejoin="round" stroke-linecap="round" /><path d="M730 468.6 L786 458.2" fill="none" stroke="#1e1e1e" stroke-width="1" stroke-linejoin="round" stroke-linecap="round" stroke-dasharray="3 2"/><path d="M769 496 L786 488 L768 481 M768 497 L782 501" fill="none" stroke="#1e1e1e" stroke-width="1" stroke-linejoin="round" stroke-linecap="round" stroke-dasharray="2.5 2"/><path d="M474 488.5 L492 488.5 L632 405" fill="none" stroke="#1e1e1e" stroke-width="1" stroke-linejoin="round" stroke-linecap="round" stroke-dasharray="3 2"/><path d="M576 507 L576 522 Q583 525 589 522 L589 507" fill="#fff" stroke="#1e1e1e" stroke-width="1.3" stroke-linejoin="round" stroke-linecap="round" /><ellipse cx="582.5" cy="507.5" rx="6.5" ry="3" fill="#fff" stroke="#1e1e1e" stroke-width="1.3"/><path d="M669 505 L669 522 Q676 525 682 522 L682 505" fill="#fff" stroke="#1e1e1e" stroke-width="1.3" stroke-linejoin="round" stroke-linecap="round" /><ellipse cx="675.5" cy="505.5" rx="6.5" ry="3" fill="#fff" stroke="#1e1e1e" stroke-width="1.3"/><path d="M575 538 L607 534 Q614 535 612 542 L600 545 L608 551 Q613 555 609 558 Q604 559 600 556 L575 546 Q571 542 575 538 Z" fill="#fff" stroke="#1e1e1e" stroke-width="1.3" stroke-linejoin="round" stroke-linecap="round" /><path d="M587 543 L592 539 L601 541 L597 547 L592 548 Z M601 550 Q606 548 609 552" fill="none" stroke="#1e1e1e" stroke-width="1.3" stroke-linejoin="round" stroke-linecap="round" /><path d="M638 550 L640 545 L651 539.5 L659 548 L656 557 L645 558 Z" fill="#fff" stroke="#1e1e1e" stroke-width="1.3" stroke-linejoin="round" stroke-linecap="round" /><path d="M638 550 L627.7 572 Q628 577 633 578.6 L640.7 578.6 L656 557 M645 558 L633 578" fill="none" stroke="#1e1e1e" stroke-width="1.3" stroke-linejoin="round" stroke-linecap="round" /><circle cx="648.5" cy="549.3" r="3" fill="none" stroke="#1e1e1e" stroke-width="1.2"/><ellipse cx="883.75" cy="474" rx="6.5" ry="7.8" fill="#fff" stroke="#1e1e1e" stroke-width="1.9"/><ellipse cx="790.75" cy="506" rx="7.5" ry="9" fill="#fff" stroke="#1e1e1e" stroke-width="1.9"/><g transform="translate(810 516.5) rotate(16)" fill="none" stroke="#1e1e1e" stroke-width="1.4" stroke-linecap="round"><path d="M4 -8.75 L60 -8.75 M4 8.75 L80 8.75" /><path d="M4 -8.75 Q-2.5 -8 -2.5 0 Q-2.5 8 4 8.75"/><path d="M15 -8.75 Q10.5 0 15 8.75 M48 -8.75 Q43.5 0 48 8.75"/></g><g transform="translate(903.75 544)" stroke="#1e1e1e" stroke-linejoin="round" stroke-linecap="round"><path d="M-35 -18 L-30.5 -32 Q-24 -43 -17.5 -45.5 Q-8 -50 -2 -49.5 Q8 -49 14.5 -47 Q21 -45 21.5 -38 Q22 -32 14 -24 Q12 -20 13.5 -10 Q15 5 11 14 Q7 20 0 20 Q-10 20 -15 15 Q-20 8 -21 -2 Z" fill="#fff" stroke-width="1.5"/><path d="M-31.5 -17 L-27.5 -30 Q-20 -41 -2 -45.5 Q10 -46 16 -43 Q19 -39 16 -33 L12 -29.5" fill="none" stroke-width="1.3"/><path d="M-28 -13 Q-24 -30 -2 -38 Q8 -41 14 -40 Q17 -37.5 14 -35 Q8 -36 -2 -33 Q-20 -26 -24 -12 Q-26 -10 -28 -13 Z" fill="none" stroke-width="1.4"/><path d="M-16 -7 Q-10 -18 2 -20 Q6 -20 6 -17 Q5 -14 0 -14 Q-8 -12 -13 -5 Q-16 -4 -16 -7 Z" fill="none" stroke-width="1.3"/><path d="M-18 -3 Q-18 8 -13 13" fill="none" stroke-width="1.2"/><ellipse cx="0" cy="0" rx="10" ry="11.5" transform="rotate(15)" fill="#fff" stroke-width="1.5"/><path d="M-7 8 Q-11 0 -6 -8" fill="none" stroke-width="1.1"/></g><g transform="translate(904 481.5) rotate(15)" fill="none" stroke="#1e1e1e" stroke-width="1.4" stroke-linecap="round"><path d="M4 -8.75 L60 -8.75 M4 8.75 L80 8.75" /><path d="M4 -8.75 Q-2.5 -8 -2.5 0 Q-2.5 8 4 8.75"/><path d="M15 -8.75 Q10.5 0 15 8.75 M48 -8.75 Q43.5 0 48 8.75"/></g><g transform="translate(995 509.8)" stroke="#1e1e1e" stroke-linejoin="round" stroke-linecap="round"><path d="M-35 -18 L-30.5 -32 Q-24 -43 -17.5 -45.5 Q-8 -50 -2 -49.5 Q8 -49 14.5 -47 Q21 -45 21.5 -38 Q22 -32 14 -24 Q12 -20 13.5 -10 Q15 5 11 14 Q7 20 0 20 Q-10 20 -15 15 Q-20 8 -21 -2 Z" fill="#fff" stroke-width="1.5"/><path d="M-31.5 -17 L-27.5 -30 Q-20 -41 -2 -45.5 Q10 -46 16 -43 Q19 -39 16 -33 L12 -29.5" fill="none" stroke-width="1.3"/><path d="M-28 -13 Q-24 -30 -2 -38 Q8 -41 14 -40 Q17 -37.5 14 -35 Q8 -36 -2 -33 Q-20 -26 -24 -12 Q-26 -10 -28 -13 Z" fill="none" stroke-width="1.4"/><path d="M-16 -7 Q-10 -18 2 -20 Q6 -20 6 -17 Q5 -14 0 -14 Q-8 -12 -13 -5 Q-16 -4 -16 -7 Z" fill="none" stroke-width="1.3"/><path d="M-18 -3 Q-18 8 -13 13" fill="none" stroke-width="1.2"/><ellipse cx="0" cy="0" rx="10" ry="11.5" transform="rotate(15)" fill="#fff" stroke-width="1.5"/><path d="M-7 8 Q-11 0 -6 -8" fill="none" stroke-width="1.1"/></g>
</svg></body></html>
